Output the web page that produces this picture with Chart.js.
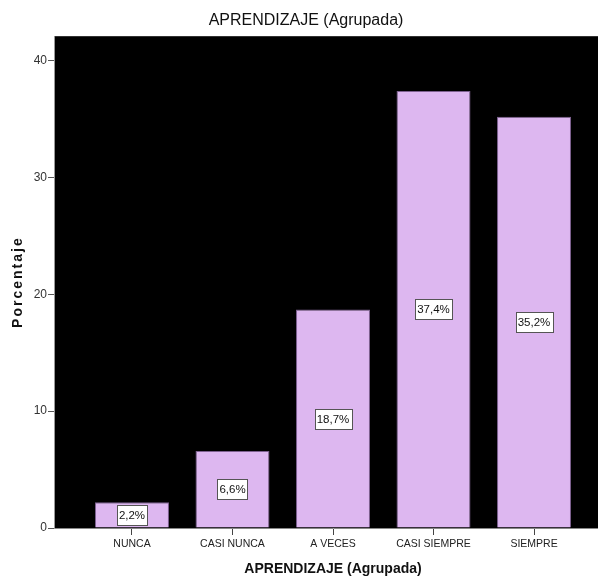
<!DOCTYPE html>
<html>
<head>
<meta charset="utf-8">
<script src="https://cdn.jsdelivr.net/npm/chart.js@4.4.1/dist/chart.umd.min.js"></script>
<style>
  html, body { margin: 0; padding: 0; overflow: hidden; background: #ffffff; }
  #wrap { width: 612px; height: 582px; position: relative; }
</style>
</head>
<body>
<div id="wrap"><canvas id="chart" width="612" height="582"></canvas></div>
<script>
// Porcentaje por categoría de APRENDIZAJE (Agrupada)
const categories = ['NUNCA', 'CASI NUNCA', 'A VECES', 'CASI SIEMPRE', 'SIEMPRE'];
const percentages = [2.2, 6.6, 18.7, 37.4, 35.2];
const yTickValues = [0, 10, 20, 30, 40];

const SANS = '"Liberation Sans", Arial, sans-serif';

// Black plotting area behind the bars
const plotBackground = {
  id: 'plotBackground',
  beforeDraw(chart) {
    const { ctx, chartArea: a } = chart;
    ctx.save();
    ctx.fillStyle = '#000000';
    ctx.fillRect(a.left, a.top, a.right - a.left, a.bottom - a.top);
    ctx.restore();
  }
};

// Wider letter spacing for the vertical axis title
const spacedAxisTitle = {
  id: 'spacedAxisTitle',
  afterLayout(chart) {
    const scale = chart.scales.y;
    if (scale._spacedTitle) return;
    const original = scale.drawTitle.bind(scale);
    scale.drawTitle = function () {
      const ctx = this.ctx;
      const prev = ctx.letterSpacing;
      ctx.letterSpacing = '2px';
      original();
      ctx.letterSpacing = prev || '0px';
    };
    scale._spacedTitle = true;
  }
};

// Boxed percentage labels centred in each bar
const valueBoxes = {
  id: 'valueBoxes',
  afterDatasetsDraw(chart) {
    const { ctx } = chart;
    const meta = chart.getDatasetMeta(0);
    ctx.save();
    ctx.font = '11.5px ' + SANS;
    ctx.textAlign = 'center';
    ctx.textBaseline = 'middle';
    meta.data.forEach((bar, i) => {
      const text = percentages[i].toFixed(1).replace('.', ',') + '%';
      const cx = bar.x;
      const cy = (bar.y + bar.base) / 2;
      const w = Math.round(ctx.measureText(text).width) + 4;
      const h = 20;
      const x0 = Math.round(cx - w / 2) + 0.5;
      const y0 = Math.round(cy - h / 2) + 0.5;
      ctx.fillStyle = '#ffffff';
      ctx.fillRect(x0, y0, w, h);
      ctx.strokeStyle = '#555555';
      ctx.lineWidth = 1;
      ctx.strokeRect(x0, y0, w, h);
      ctx.fillStyle = '#111111';
      ctx.fillText(text, cx, cy + 1);
    });
    ctx.restore();
  }
};

new Chart(document.getElementById('chart'), {
  type: 'bar',
  data: {
    datasets: [{
      data: percentages.map((v, i) => ({ x: i, y: v })),
      backgroundColor: '#DDB7F0',
      borderColor: '#7d6190',
      borderWidth: 1,
      borderSkipped: 'bottom',
      barPercentage: 0.736,
      categoryPercentage: 1.0
    }]
  },
  options: {
    responsive: false,
    animation: false,
    layout: { padding: 0 },
    plugins: {
      legend: { display: false },
      tooltip: { enabled: false },
      title: {
        display: true,
        text: 'APRENDIZAJE (Agrupada)',
        color: '#111111',
        font: { family: SANS, size: 16, weight: 'normal', lineHeight: 1.2 },
        padding: { top: 11, bottom: 6 }
      }
    },
    scales: {
      x: {
        type: 'linear',
        offset: false,
        min: -0.776,
        max: 4.776,
        afterBuildTicks(scale) {
          scale.ticks = categories.map((_, i) => ({ value: i }));
        },
        afterFit(scale) { scale.height = 54; },
        ticks: {
          autoSkip: false,
          maxRotation: 0,
          padding: 3,
          color: '#222222',
          font: { family: SANS, size: 10.5 },
          callback: (v) => categories[v]
        },
        grid: {
          offset: false,
          drawOnChartArea: false,
          drawTicks: true,
          tickLength: 7,
          tickColor: '#444444'
        },
        border: { display: true, color: '#888888', width: 1 },
        title: {
          display: true,
          text: 'APRENDIZAJE (Agrupada)',
          color: '#111111',
          font: { family: SANS, size: 14, weight: 'bold', lineHeight: 1.2 },
          padding: { top: 0, bottom: 4 }
        }
      },
      y: {
        min: 0,
        max: 42.1,
        afterBuildTicks(scale) {
          scale.ticks = yTickValues.map(v => ({ value: v }));
        },
        afterFit(scale) { scale.width = 54; },
        ticks: {
          padding: 1,
          color: '#333333',
          font: { family: SANS, size: 12 }
        },
        grid: {
          drawOnChartArea: false,
          drawTicks: true,
          tickLength: 6,
          tickColor: '#555555'
        },
        border: { display: true, color: '#999999', width: 1 },
        title: {
          display: true,
          text: 'Porcentaje',
          color: '#111111',
          font: { family: SANS, size: 14, weight: 'bold', lineHeight: 1.2 },
          padding: { top: 10, bottom: 0 }
        }
      }
    }
  },
  plugins: [plotBackground, spacedAxisTitle, valueBoxes]
});
</script>
</body>
</html>
